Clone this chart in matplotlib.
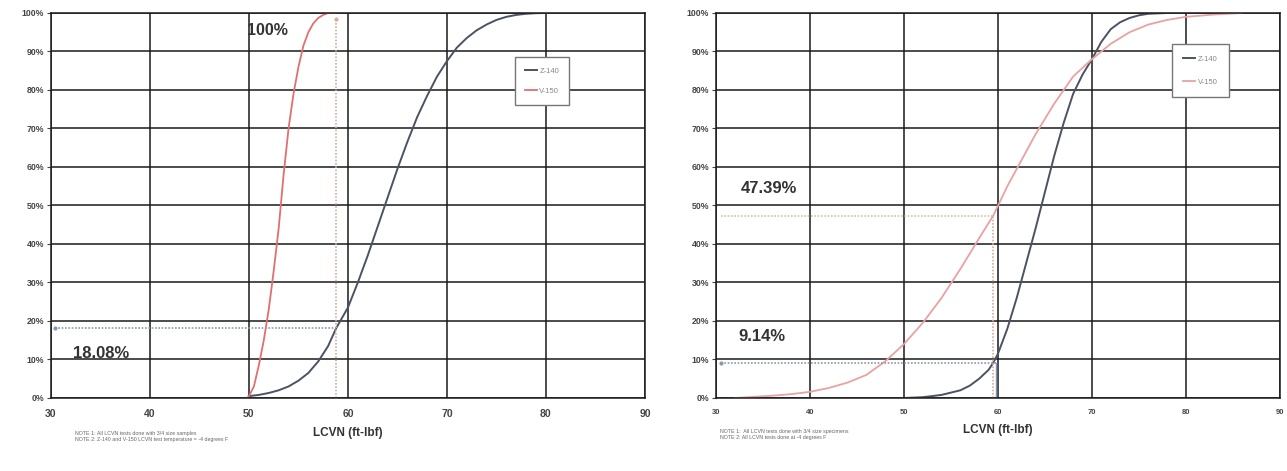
import matplotlib.pyplot as plt
from matplotlib.ticker import PercentFormatter

plt.rcParams['font.family'] = ['Liberation Sans', 'DejaVu Sans']

# Left panel: cumulative share of LCVN results
z140_left_x = [50, 51, 52, 53, 54, 55, 56, 57, 58, 58.8, 60, 61, 62, 63, 64, 65, 66,
               67, 68, 69, 70, 71, 72, 73, 74, 75, 76, 77, 78, 79, 80]
z140_left_y = [0.5, 0.8, 1.3, 2.0, 3.0, 4.5, 6.5, 9.5, 13.5, 18.08, 23.5, 30, 37, 44.5,
               52, 59.5, 66.5, 73, 78.5, 83.5, 87.5, 91, 93.5, 95.5, 97, 98.2, 99, 99.5,
               99.8, 99.95, 100]
v150_left_x = [49.8, 50, 50.5, 51, 51.5, 52, 52.5, 53, 53.5, 54, 54.5, 55, 55.5, 56,
               56.5, 57, 57.5, 58, 58.8]
v150_left_y = [0, 0.5, 3, 8.5, 15, 23, 33, 44, 58, 70, 79, 86, 91.5, 95, 97.3, 98.7,
               99.5, 100, 100]

# Right panel
z140_right_x = [50, 52, 54, 56, 57, 58, 59, 59.5, 60, 61, 62, 63, 64, 65, 66, 67, 68,
                69, 70, 71, 72, 73, 74, 75, 76, 78]
z140_right_y = [0, 0.2, 0.8, 2.0, 3.2, 5.0, 7.3, 9.14, 11.5, 18, 26, 35, 44, 53.5, 63,
                71.5, 79, 84, 88, 92.5, 95.8, 97.6, 98.7, 99.4, 99.8, 100]
v150_right_x = [32, 34, 36, 38, 40, 42, 44, 46, 48, 50, 52, 54, 56, 58, 59.5, 61, 62,
                64, 66, 68, 70, 72, 74, 76, 78, 80, 83, 86]
v150_right_y = [0, 0.3, 0.6, 1.0, 1.6, 2.6, 4.0, 6.0, 9.5, 14, 19.5, 26, 33.5, 41.5,
                47.39, 55, 59.5, 68.5, 76.5, 83.5, 88, 92, 95, 97, 98.2, 99, 99.6, 100]

x_ticks = [30, 40, 50, 60, 70, 80, 90]
y_ticks = [0, 10, 20, 30, 40, 50, 60, 70, 80, 90, 100]

left_notes = ["NOTE 1: All LCVN tests done with 3/4 size samples",
              "NOTE 2: Z-140 and V-150 LCVN test temperature = -4 degrees F"]
right_notes = ["NOTE 1:  All LCVN tests done with 3/4 size specimens",
               "NOTE 2: All LCVN tests done at -4 degrees F"]

Z_COL = '#4b5263'
HLINE_COL = '#8a97ad'
VLINE_COL = '#d6ae9c'


def setup(ax, xfont):
    ax.set_xlim(30, 90)
    ax.set_ylim(0, 100)
    ax.set_xticks(x_ticks)
    ax.set_yticks(y_ticks)
    ax.yaxis.set_major_formatter(PercentFormatter(decimals=0))
    ax.grid(True, color='#1a1a1a', linewidth=1.1)
    ax.set_axisbelow(True)
    for s in ax.spines.values():
        s.set_color('#1a1a1a')
        s.set_linewidth(1.1)
    ax.tick_params(axis='y', labelsize=6.3, colors='#444444', length=3, width=0.8, pad=2)
    ax.tick_params(axis='x', labelsize=xfont, colors='#444444', length=0, pad=8)
    for lab in ax.get_xticklabels() + ax.get_yticklabels():
        lab.set_fontweight('bold')
    ax.set_xlabel('LCVN (ft-lbf)', fontsize=8.5, fontweight='bold', color='#333333',
                  labelpad=6)


def small_legend(ax, anchor, pad, spacing):
    leg = ax.legend(loc='upper left', bbox_to_anchor=anchor, fontsize=5.5,
                    handlelength=1.6, handletextpad=0.3, borderaxespad=0,
                    fancybox=False, framealpha=1, edgecolor='#777777',
                    borderpad=pad, labelspacing=spacing)
    leg.get_frame().set_linewidth(1.0)
    for t in leg.get_texts():
        t.set_color('#888888')


fig = plt.figure(figsize=(12.87, 4.71), dpi=100)

# ---- left chart ----
ax1 = fig.add_axes((0.0396, 0.155, 0.4615, 0.8174))
setup(ax1, 7.5)
ax1.plot(z140_left_x, z140_left_y, color=Z_COL, lw=1.4, label='Z-140')
ax1.plot(v150_left_x, v150_left_y, color='#e06f6f', lw=1.3, label='V-150')
ax1.plot([58.8, 58.8], [0, 98.5], color=VLINE_COL, lw=1.2, ls=(0, (1, 1)))
ax1.plot([58.8], [98.5], marker='o', ms=2, color=VLINE_COL)
ax1.plot([30.4, 58.8], [18.08, 18.08], color=HLINE_COL, lw=1.2, ls=(0, (1, 1)))
ax1.plot([30.4], [18.08], marker='o', ms=2, color=HLINE_COL)
ax1.text(49.8, 95.5, '100%', fontsize=11.5, fontweight='bold', color='#333333',
         va='center', ha='left')
ax1.text(32.2, 11.6, '18.08%', fontsize=12, fontweight='bold', color='#333333',
         va='center', ha='left')
small_legend(ax1, (0.781, 0.885), 1.3, 1.7)
for i, n in enumerate(left_notes):
    fig.text(75 / 1287, 1 - (433 + 7 * i) / 471, n, fontsize=3.8, color='#666666',
             va='center')

# ---- right chart ----
ax2 = fig.add_axes((0.5563, 0.155, 0.4382, 0.8174))
setup(ax2, 5.5)
ax2.plot(z140_right_x, z140_right_y, color=Z_COL, lw=1.4, label='Z-140')
ax2.plot(v150_right_x, v150_right_y, color='#e9a1a1', lw=1.3, label='V-150')
ax2.plot([59.5, 59.5], [0, 47.39], color=VLINE_COL, lw=1.2, ls=(0, (1, 1)))
ax2.plot([59.8, 59.8], [0, 9.14], color='#8093c0', lw=1.0)
ax2.plot([30.5, 59.5], [47.39, 47.39], color='#c4c8a8', lw=1.2, ls=(0, (1, 1)))
ax2.plot([30.5, 59.8], [9.14, 9.14], color=HLINE_COL, lw=1.2, ls=(0, (1, 1)))
ax2.plot([30.5], [9.14], marker='o', ms=2, color=HLINE_COL)
ax2.text(32.6, 54.5, '47.39%', fontsize=12, fontweight='bold', color='#333333',
         va='center', ha='left')
ax2.text(32.4, 16.0, '9.14%', fontsize=12, fontweight='bold', color='#333333',
         va='center', ha='left')
small_legend(ax2, (0.808, 0.919), 1.5, 2.0)
for i, n in enumerate(right_notes):
    fig.text(720 / 1287, 1 - (431 + 7 * i) / 471, n, fontsize=3.8, color='#666666',
             va='center')

fig.savefig('out.png', dpi=100, facecolor='white')
